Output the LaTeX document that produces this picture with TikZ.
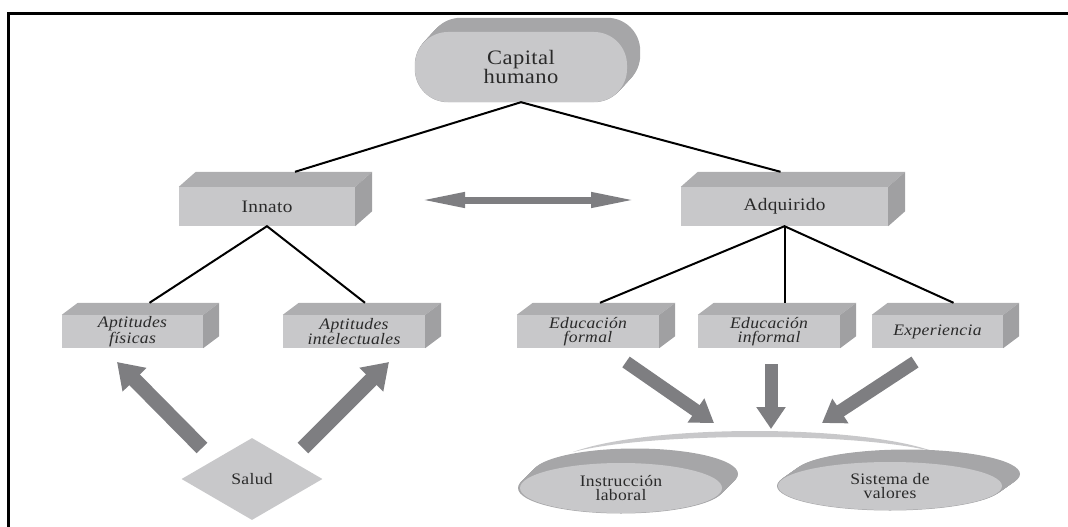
\documentclass[tikz,border=0pt]{standalone}
\usepackage{fontspec}
\setmainfont{Liberation Serif}[FakeStretch=1.1,LetterSpace=2]
\usetikzlibrary{calc,shapes.geometric,arrows.meta,backgrounds}
\definecolor{frontc}{HTML}{C8C8CA}
\definecolor{topc}{HTML}{AEAEB0}
\definecolor{sidec}{HTML}{A0A0A2}
\definecolor{backc}{HTML}{A6A6A8}
\definecolor{arrc}{HTML}{7E7E81}
\definecolor{txtc}{HTML}{2A2A2A}
\newcommand\boxfaces[3]{%
  \fill[topc] (#1.north west) -- ++(#2,#3) -- ($(#1.north east)+(#2,#3)$) -- (#1.north east) -- cycle;
  \fill[sidec] (#1.north east) -- ++(#2,#3) -- ($(#1.south east)+(#2,#3)$) -- (#1.south east) -- cycle;}
\begin{document}
\begin{tikzpicture}[x=1pt,y=-1pt,
  every node/.style={text=txtc},
  bigbox/.style={rectangle, fill=frontc, inner sep=0pt, align=center, minimum height=39, font=\fontsize{17.5}{17}\selectfont},
  smallbox/.style={rectangle, fill=frontc, inner sep=0pt, align=center, minimum height=33, minimum width=142, font=\fontsize{16}{14}\selectfont\itshape},
  ovalnode/.style={ellipse, fill=frontc, inner sep=0pt, align=center, font=\fontsize{16}{14.5}\selectfont},
  link/.style={line width=2pt, black},
  grarrow/.style={line width=13pt, arrc, -{Triangle[length=22pt, width=28pt]}},
  grarrowb/.style={line width=15pt, arrc, -{Triangle[length=25pt, width=32pt]}},
  dblarrow/.style={line width=7pt, arrc, {Triangle[length=46pt, width=14pt]}-{Triangle[length=46pt, width=14pt]}}
]
\useasboundingbox (0,0) rectangle (1068,527);
\draw[line width=3pt] (1068,13.5) -- (8.5,13.5) -- (8.5,527);

% top node
\node[rectangle, rounded corners=33pt, fill=frontc, minimum width=212, minimum height=70, inner sep=0pt, align=center, font=\fontsize{20.5}{16.5}\selectfont] (cap) at (521,67) {Capital\\humano};

% second level
\node[bigbox, minimum width=176] (inn) at (267,206.5) {Innato};
\node[bigbox, minimum width=207] (adq) at (784.5,206.5) {Adquirido};
\boxfaces{inn}{17}{-15}
\boxfaces{adq}{17}{-15}

% third level
\node[smallbox, minimum width=141] (af) at (132.5,331.5) {Aptitudes\\físicas};
\node[smallbox] (ai) at (354,331.5) {Aptitudes\\intelectuales};
\node[smallbox] (ef) at (588,331.5) {Educación\\formal};
\node[smallbox] (ei) at (769,331.5) {Educación\\informal};
\node[smallbox, minimum width=131] (ex) at (937.5,331.5) {\raisebox{3pt}{Experiencia}};
\foreach \n in {af,ai,ef,ei,ex}{\boxfaces{\n}{16}{-12}}

% Salud
\node[diamond, aspect=1.72, fill=frontc, minimum width=141, minimum height=82, inner sep=0pt, font=\fontsize{16}{14}\selectfont] (sal) at (252,479) {Salud};

% bottom ovals
\node[ovalnode, minimum width=202, minimum height=50] (il) at (621,488) {Instrucción\\laboral};
\node[ovalnode, minimum width=224, minimum height=48] (sv) at (890,486) {Sistema de\\valores};

\begin{scope}[on background layer]
  \foreach \t in {0,0.05,...,1.001}{
    \fill[backc, rounded corners=33pt] ($(cap.south west)+(13*\t,-14*\t)$) rectangle ($(cap.north east)+(13*\t,-14*\t)$);}
  \fill[frontc] (573,452) .. controls (650,424) and (860,424) .. (935,452) .. controls (860,432) and (650,432) .. (573,452);
  \foreach \t in {0,0.05,...,1.001}{
    \fill[backc] ($(il.center)+(14*\t,-14*\t)$) ellipse [x radius=103pt, y radius=25.5pt];
    \fill[backc] ($(sv.center)+(17*\t,-12*\t)$) ellipse [x radius=113pt, y radius=24.5pt];}
\end{scope}

% connectors
\coordinate (innT) at ($(inn.north)+(28,-15)$);
\coordinate (adqT) at ($(adq.north)+(-4,-15)$);
\draw[link] (innT) -- (cap.south) -- (adqT);
\coordinate (afT) at ($(af.north)+(17,-12)$);
\coordinate (aiT) at ($(ai.north)+(11,-12)$);
\draw[link] (afT) -- (inn.south) -- (aiT);
\coordinate (efT) at ($(ef.north)+(12,-12)$);
\coordinate (exT) at ($(ex.north)+(16,-12)$);
\draw[link] (efT) -- (adq.south) -- (exT);
\draw[link] (adq.south) -- (adq.south |- efT);

% double arrow
\coordinate (dL) at (419,200);
\coordinate (dR) at (637,200);
\draw[dblarrow] (dL) -- (dR);

% Salud arrows
\coordinate (s1a) at (202,448); \coordinate (s1b) at (117,362);
\coordinate (s2a) at (303,448); \coordinate (s2b) at (389,362);
\draw[grarrowb] (s1a) -- (s1b);
\draw[grarrowb] (s2a) -- (s2b);

% education arrows
\coordinate (e1a) at (626,362); \coordinate (e1b) at (714,423);
\coordinate (e2a) at (771,364); \coordinate (e2b) at (771,429);
\coordinate (e3a) at (915,362); \coordinate (e3b) at (822,423);
\draw[grarrow] (e1a) -- (e1b);
\draw[grarrow] (e2a) -- (e2b);
\draw[grarrow] (e3a) -- (e3b);
\end{tikzpicture}
\end{document}
